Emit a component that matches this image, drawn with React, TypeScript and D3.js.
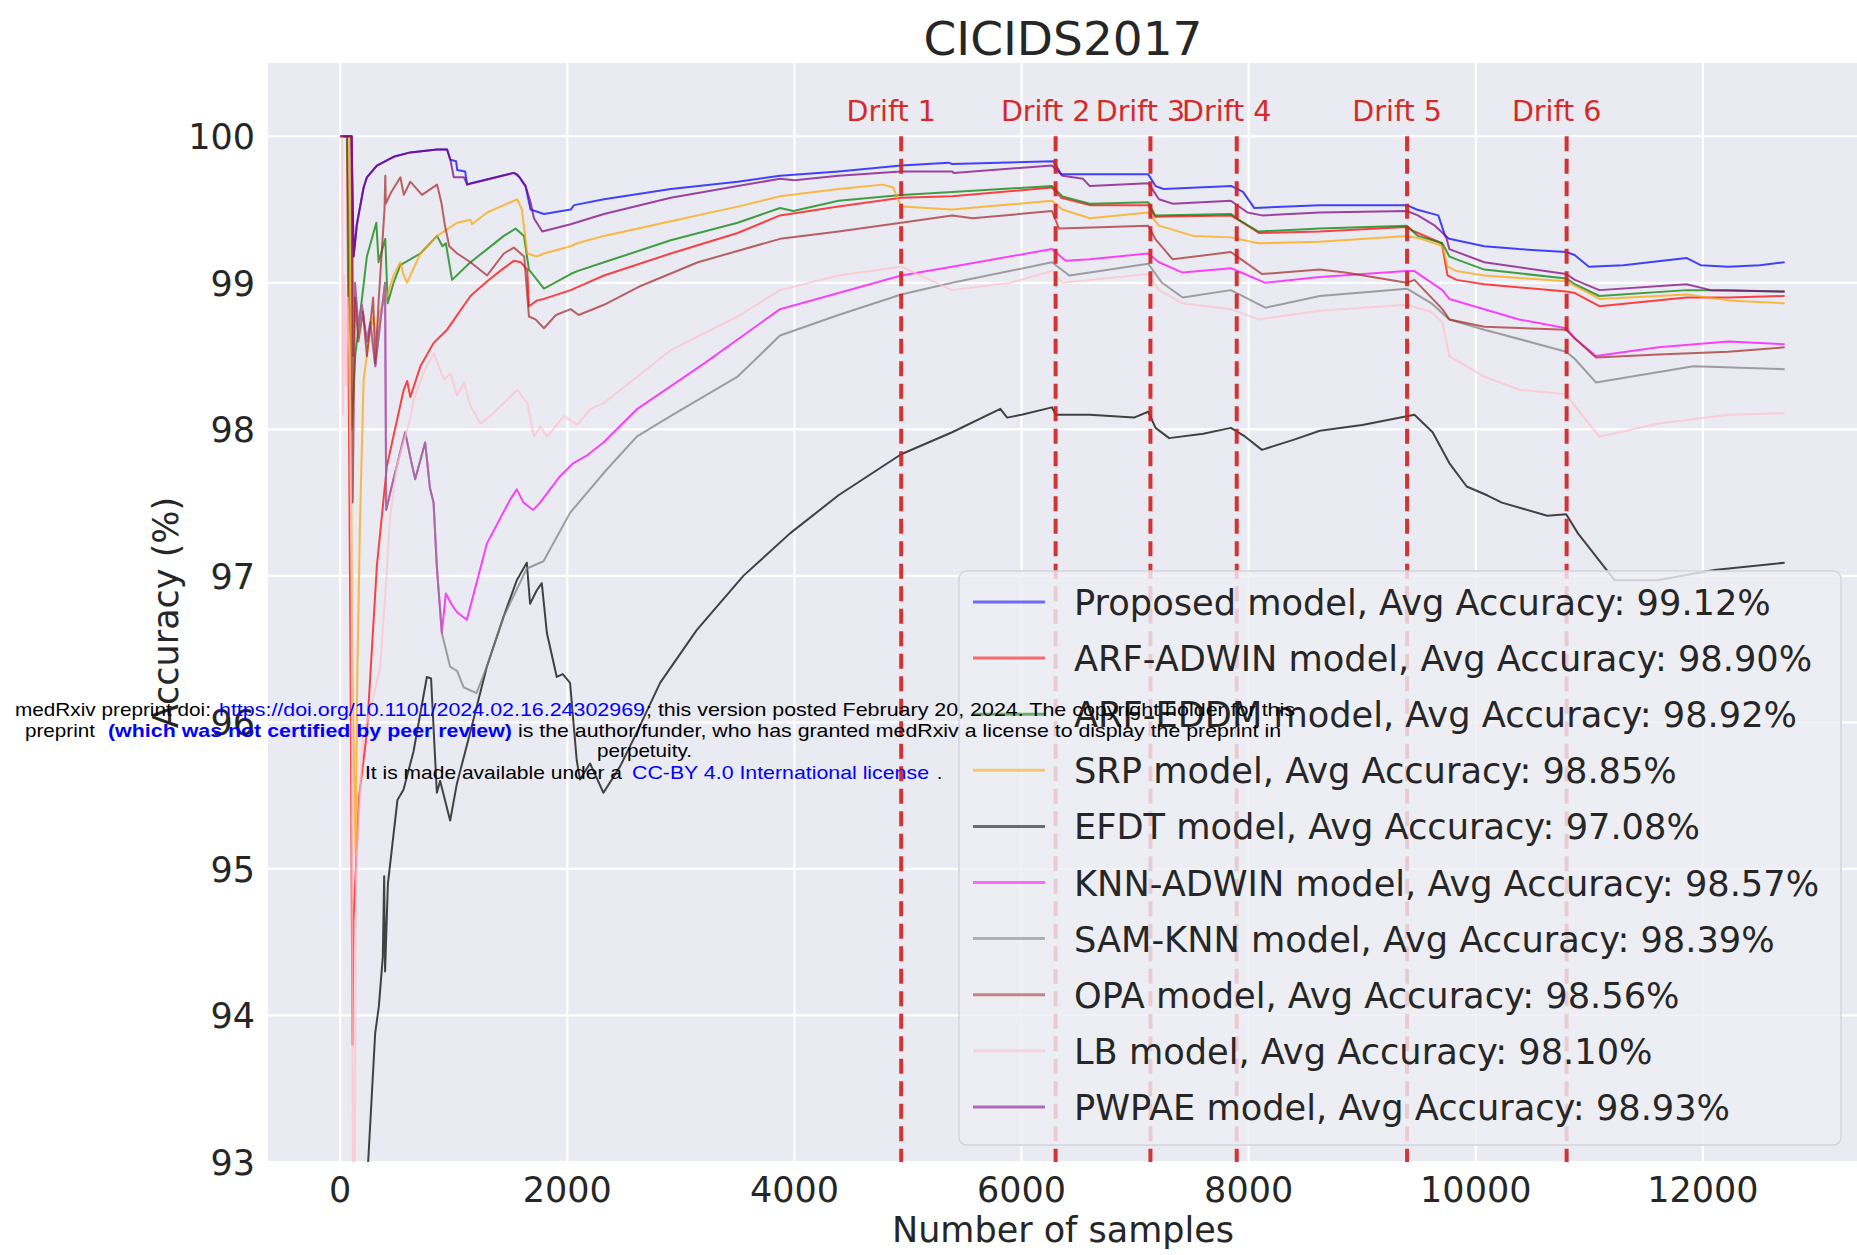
import React from "react";
import * as d3 from "d3";

const W = 1857;
const H = 1255;

const xTicks = [0, 2000, 4000, 6000, 8000, 10000, 12000];
const yTicks = [93, 94, 95, 96, 97, 98, 99, 100];
const driftX = [4940, 6300, 7135, 7895, 9395, 10800];
const driftLabels = ["Drift 1", "Drift 2", "Drift 3", "Drift 4", "Drift 5", "Drift 6"];

const modelNames = [
  "Proposed model",
  "ARF-ADWIN model",
  "ARF-EDDM model",
  "SRP model",
  "EFDT model",
  "KNN-ADWIN model",
  "SAM-KNN model",
  "OPA model",
  "LB model",
  "PWPAE model",
];
const avgAccuracy = [99.12, 98.9, 98.92, 98.85, 97.08, 98.57, 98.39, 98.56, 98.1, 98.93];
const lineColors = ["#0000ff", "#ff0000", "#008000", "#ffa500", "#000000", "#ff00ff", "#808080", "#a52a2a", "#ffc0cb", "#800080"];

type P = [number, number];

const proposed: P[] = [
  [0, 100], [100, 100], [118, 99.18], [147, 99.4], [206, 99.65], [235, 99.72], [323, 99.8], [470, 99.86], [617, 99.89],
  [853, 99.91], [941, 99.91], [970, 99.84], [1020, 99.83], [1030, 99.77], [1100, 99.76], [1118, 99.67], [1150, 99.68],
  [1529, 99.75], [1560, 99.74], [1632, 99.66], [1676, 99.5], [1794, 99.47], [2030, 99.5], [2059, 99.53], [2323, 99.57],
  [2911, 99.64], [3500, 99.69], [3873, 99.73], [4388, 99.76], [4940, 99.8], [5360, 99.82], [5389, 99.81], [6280, 99.83],
  [6350, 99.74], [6600, 99.74], [7116, 99.74], [7180, 99.66], [7250, 99.64], [7850, 99.66], [7950, 99.62], [8050, 99.51],
  [8626, 99.53], [9393, 99.53], [9480, 99.5], [9670, 99.46], [9730, 99.32], [9767, 99.3], [10075, 99.25], [10380, 99.23],
  [10796, 99.21], [10870, 99.19], [10996, 99.11], [11300, 99.12], [11856, 99.17], [11980, 99.12], [12224, 99.11],
  [12500, 99.12], [12720, 99.14],
];

const arfAdwin: P[] = [
  [0, 100], [60, 100], [90, 96.5], [108, 93.8], [117, 94.65], [167, 95.5], [235, 95.93], [323, 97.07], [411, 97.75],
  [559, 98.27], [590, 98.33], [617, 98.22], [706, 98.43], [823, 98.59], [941, 98.68], [1147, 98.91], [1294, 99.01],
  [1441, 99.1], [1529, 99.15], [1590, 99.14], [1647, 99.09], [1662, 98.84], [1735, 98.88], [1794, 98.89], [2029, 98.95],
  [2323, 99.05], [2911, 99.2], [3500, 99.34], [3873, 99.46], [4388, 99.52], [4940, 99.58], [5389, 99.59], [6268, 99.65],
  [6350, 99.58], [6600, 99.53], [7116, 99.53], [7177, 99.45], [7843, 99.46], [7970, 99.4], [8090, 99.34], [8626, 99.35],
  [9393, 99.38], [9460, 99.35], [9700, 99.27], [9752, 99.05], [9830, 99.02], [10075, 98.99], [10796, 98.94],
  [10873, 98.93], [11088, 98.84], [11856, 98.9], [12224, 98.9], [12720, 98.91],
];

const arfEddm: P[] = [
  [0, 100], [60, 100], [100, 98.0], [132, 98.5], [235, 99.18], [318, 99.41], [338, 99.14], [397, 99.3], [418, 98.86],
  [470, 99.0], [529, 99.12], [706, 99.2], [853, 99.32], [900, 99.25], [930, 99.27], [985, 99.02], [1147, 99.14],
  [1294, 99.23], [1441, 99.32], [1544, 99.37], [1618, 99.32], [1662, 99.09], [1794, 98.96], [2029, 99.06], [2088, 99.08],
  [2323, 99.14], [2911, 99.29], [3500, 99.41], [3873, 99.51], [3990, 99.49], [4388, 99.56], [4940, 99.6], [5389, 99.62],
  [6268, 99.66], [6360, 99.59], [6601, 99.54], [7116, 99.55], [7177, 99.46], [7843, 99.47], [7934, 99.42], [8086, 99.35],
  [8626, 99.37], [9393, 99.39], [9490, 99.32], [9706, 99.27], [9767, 99.18], [9830, 99.16], [10075, 99.09],
  [10796, 99.03], [10873, 98.99], [11088, 98.91], [11856, 98.95], [12224, 98.95], [12720, 98.94],
];

const srp: P[] = [
  [0, 100], [80, 100], [105, 96.5], [135, 95.1], [150, 96.3], [175, 97.4], [206, 98.34], [265, 98.68], [294, 98.77],
  [320, 98.6], [345, 98.8], [412, 98.91], [470, 99.05], [529, 99.14], [560, 99.05], [588, 99.0], [706, 99.2],
  [853, 99.32], [1030, 99.41], [1147, 99.43], [1160, 99.4], [1294, 99.48], [1441, 99.53], [1559, 99.57], [1600, 99.5],
  [1647, 99.2], [1735, 99.18], [1794, 99.2], [2029, 99.25], [2088, 99.27], [2323, 99.32], [2911, 99.42], [3500, 99.52],
  [3873, 99.59], [4388, 99.64], [4780, 99.67], [4870, 99.65], [4940, 99.52], [5389, 99.5], [5690, 99.52], [6268, 99.56],
  [6360, 99.5], [6601, 99.44], [7116, 99.48], [7210, 99.39], [7510, 99.32], [7843, 99.31], [8086, 99.27], [8626, 99.28],
  [9393, 99.32], [9520, 99.3], [9706, 99.25], [9752, 99.11], [9830, 99.08], [10075, 99.05], [10796, 99.01],
  [10996, 98.93], [11088, 98.89], [11856, 98.92], [12224, 98.88], [12720, 98.86],
];

const efdt: P[] = [
  [0, 86.0], [100, 88.5], [200, 91.6], [246, 93.0], [308, 93.88], [340, 94.06], [375, 94.4], [387, 94.95],
  [395, 94.3], [420, 94.9], [504, 95.47], [557, 95.54], [645, 95.8], [763, 96.31], [800, 96.3], [851, 95.52],
  [880, 95.6], [968, 95.33], [1027, 95.58], [1144, 95.93], [1291, 96.38], [1438, 96.72], [1555, 96.97], [1643, 97.09],
  [1672, 96.81], [1730, 96.9], [1775, 96.95], [1820, 96.61], [1907, 96.31], [1960, 96.33], [2024, 96.27], [2083, 95.74],
  [2112, 95.61], [2200, 95.72], [2318, 95.52], [2465, 95.7], [2611, 95.93], [2817, 96.27], [3139, 96.63], [3550, 97.0],
  [3961, 97.29], [4388, 97.55], [4940, 97.83], [5389, 97.98], [5813, 98.14], [5873, 98.08], [6000, 98.1],
  [6268, 98.15], [6300, 98.1], [6600, 98.1], [6990, 98.08], [7116, 98.12], [7180, 98.01], [7300, 97.94], [7600, 97.97],
  [7843, 98.01], [7970, 97.95], [8117, 97.86], [8400, 97.93], [8626, 97.99], [9000, 98.03], [9393, 98.09],
  [9460, 98.1], [9620, 97.98], [9767, 97.77], [9920, 97.61], [10100, 97.55], [10230, 97.5], [10630, 97.41],
  [10796, 97.42], [10900, 97.29], [11224, 96.97], [11600, 96.97], [12100, 97.04], [12720, 97.09],
];

const knnAdwin: P[] = [
  [0, 100], [100, 100], [115, 98.5], [130, 99.0], [160, 98.7], [190, 98.85], [235, 98.6], [265, 98.73], [309, 98.43],
  [353, 98.73], [395, 99.0], [405, 97.45], [450, 97.6], [572, 97.98], [620, 97.8], [660, 97.66], [748, 97.91],
  [790, 97.6], [822, 97.5], [851, 97.06], [895, 96.61], [930, 96.88], [985, 96.8], [1030, 96.75], [1115, 96.7],
  [1291, 97.22], [1496, 97.52], [1555, 97.59], [1614, 97.5], [1700, 97.45], [1760, 97.5], [1936, 97.68], [2054, 97.77],
  [2170, 97.82], [2318, 97.91], [2617, 98.14], [3206, 98.45], [3873, 98.82], [4388, 98.93], [4940, 99.05],
  [5389, 99.11], [6268, 99.23], [6389, 99.15], [6601, 99.16], [7116, 99.2], [7210, 99.14], [7419, 99.07],
  [7843, 99.1], [7934, 99.07], [8147, 99.0], [8626, 99.04], [9393, 99.08], [9460, 99.08], [9706, 98.95], [9767, 98.89],
  [10075, 98.82], [10382, 98.75], [10796, 98.69], [10873, 98.62], [11058, 98.5], [11610, 98.56], [12224, 98.6],
  [12720, 98.58],
];

const samKnn: P[] = [
  [0, 100], [100, 100], [115, 98.5], [130, 99.0], [160, 98.7], [190, 98.85], [235, 98.6], [265, 98.73], [309, 98.43],
  [353, 98.73], [395, 99.0], [405, 97.45], [450, 97.6], [572, 97.98], [620, 97.8], [660, 97.66], [748, 97.91],
  [790, 97.6], [822, 97.5], [851, 97.06], [895, 96.61], [968, 96.38], [1030, 96.35], [1086, 96.24], [1200, 96.2],
  [1291, 96.38], [1438, 96.72], [1643, 97.05], [1790, 97.1], [2024, 97.43], [2318, 97.7], [2611, 97.95], [2908, 98.09],
  [3500, 98.36], [3873, 98.64], [4388, 98.78], [4940, 98.92], [5389, 99.0], [6268, 99.14], [6420, 99.05],
  [6601, 99.07], [7116, 99.13], [7237, 99.0], [7419, 98.9], [7843, 98.95], [8147, 98.83], [8626, 98.91], [9393, 98.96],
  [9610, 98.86], [9767, 98.75], [10075, 98.68], [10796, 98.53], [10873, 98.48], [11058, 98.32], [11600, 98.39],
  [11917, 98.43], [12720, 98.41],
];

const opa: P[] = [
  [0, 100], [100, 100], [110, 97.5], [130, 98.9], [160, 98.6], [200, 98.8], [235, 98.5], [290, 98.9], [309, 98.45],
  [340, 98.9], [390, 99.5], [397, 99.73], [402, 99.54], [450, 99.62], [530, 99.72], [560, 99.6], [617, 99.69],
  [720, 99.6], [853, 99.67], [890, 99.55], [920, 99.4], [960, 99.25], [1030, 99.2], [1147, 99.14], [1294, 99.05],
  [1441, 99.2], [1529, 99.24], [1620, 99.18], [1662, 98.77], [1720, 98.75], [1794, 98.69], [1900, 98.78],
  [2029, 98.82], [2100, 98.78], [2323, 98.85], [2650, 98.98], [3150, 99.14], [3873, 99.3], [4388, 99.35],
  [4940, 99.41], [5389, 99.46], [5570, 99.44], [6268, 99.49], [6330, 99.37], [7116, 99.39], [7177, 99.3],
  [7330, 99.16], [7843, 99.21], [7934, 99.16], [8117, 99.06], [8626, 99.09], [8850, 99.07], [9393, 99.0],
  [9460, 99.02], [9706, 98.82], [9767, 98.75], [10075, 98.7], [10796, 98.68], [10873, 98.62], [11058, 98.49],
  [11610, 98.51], [12224, 98.53], [12720, 98.56],
];

const lb: P[] = [
  [0, 100], [15, 100], [25, 98.1], [35, 99.05], [50, 98.3], [65, 98.9], [80, 98.5], [100, 97.0], [112, 92.5],
  [125, 92.5], [140, 95.0], [200, 95.9], [300, 96.2], [352, 96.38], [396, 96.86], [440, 97.41], [499, 97.75],
  [616, 98.07], [647, 98.2], [735, 98.39], [823, 98.52], [870, 98.43], [912, 98.34], [970, 98.38], [1030, 98.23],
  [1090, 98.32], [1147, 98.16], [1235, 98.04], [1320, 98.09], [1441, 98.18], [1559, 98.27], [1647, 98.18],
  [1706, 97.95], [1760, 98.02], [1823, 97.95], [1970, 98.09], [2088, 98.03], [2206, 98.14], [2323, 98.18],
  [2617, 98.36], [2911, 98.54], [3500, 98.77], [3873, 98.95], [4388, 99.05], [4940, 99.11], [5389, 98.95],
  [5900, 99.0], [6268, 99.08], [6360, 99.0], [7116, 99.06], [7210, 98.95], [7419, 98.86], [7843, 98.82],
  [8086, 98.75], [8626, 98.81], [9393, 98.85], [9610, 98.8], [9706, 98.73], [9767, 98.5], [9920, 98.43],
  [10075, 98.36], [10382, 98.27], [10796, 98.24], [10873, 98.16], [11088, 97.95], [11610, 98.04], [12224, 98.1],
  [12720, 98.11],
];

const pwpae: P[] = [
  [0, 100], [100, 100], [118, 99.18], [147, 99.4], [206, 99.65], [235, 99.72], [323, 99.8], [470, 99.86], [617, 99.89],
  [853, 99.91], [941, 99.91], [970, 99.84], [1000, 99.72], [1090, 99.72], [1118, 99.67], [1529, 99.75], [1580, 99.72],
  [1632, 99.66], [1676, 99.55], [1706, 99.44], [1779, 99.35], [2029, 99.4], [2323, 99.47], [2911, 99.58],
  [3500, 99.66], [3873, 99.71], [4000, 99.7], [4388, 99.73], [4940, 99.76], [5389, 99.76], [5400, 99.75],
  [6268, 99.8], [6360, 99.73], [6540, 99.71], [6601, 99.66], [7116, 99.68], [7210, 99.57], [7330, 99.54],
  [7843, 99.56], [7990, 99.48], [8117, 99.46], [8626, 99.48], [9393, 99.49], [9490, 99.46], [9640, 99.39],
  [9737, 99.32], [9767, 99.23], [10075, 99.14], [10796, 99.06], [10873, 99.02], [11088, 98.95], [11856, 98.99],
  [12070, 98.95], [12720, 98.94],
];

const seriesData = [proposed, arfAdwin, arfEddm, srp, efdt, knnAdwin, samKnn, opa, lb, pwpae];

const wmBlack = "#000000";
const wmBlue = "#0000ff";

export default function App() {
  const x = d3.scaleLinear().domain([-636, 13366]).range([268, 1858]);
  const y = d3.scaleLinear().domain([93, 100.5]).range([1162, 63]);
  const line = d3
    .line<P>()
    .x((d) => x(d[0]))
    .y((d) => y(d[1]));

  const plotL = x(-636);
  const plotR = x(13366);
  const plotT = y(100.5);
  const plotB = y(93);
  const font = "DejaVu Sans, sans-serif";
  const textColor = "#262626";

  const legX = 959;
  const legY = 571;
  const legW = 882;
  const legH = 574;
  const rowBase0 = 615;
  const rowStep = 56.1;

  const wm = "Liberation Sans, Arial, sans-serif";
  const wmY = [716, 737, 757, 779];

  return (
    <svg
      width={W}
      height={H}
      style={{ position: "absolute", left: 0, top: 0, background: "#ffffff" }}
    >
      <defs>
        <clipPath id="plotClip">
          <rect x={plotL} y={plotT} width={plotR - plotL} height={plotB - plotT} />
        </clipPath>
      </defs>
      <rect x={0} y={0} width={W} height={H} fill="#ffffff" />
      <rect x={plotL} y={plotT} width={plotR - plotL} height={plotB - plotT} fill="#EAEAF2" />
      {xTicks.map((t) => (
        <line key={"gx" + t} x1={x(t)} x2={x(t)} y1={plotT} y2={plotB} stroke="#ffffff" strokeWidth={2.2} />
      ))}
      {yTicks.map((t) => (
        <line key={"gy" + t} x1={plotL} x2={plotR} y1={y(t)} y2={y(t)} stroke="#ffffff" strokeWidth={2.2} />
      ))}
      <g clipPath="url(#plotClip)">
        {seriesData.map((s, i) => (
          <path
            key={"s" + i}
            d={line(s) || ""}
            fill="none"
            stroke={lineColors[i]}
            strokeOpacity={0.72}
            strokeWidth={2}
            strokeLinejoin="round"
          />
        ))}
      </g>
      {driftX.map((d, i) => (
        <line
          key={"d" + i}
          x1={x(d)}
          x2={x(d)}
          y1={y(100)}
          y2={y(93)}
          stroke="#d21f1f"
          strokeOpacity={0.9}
          strokeWidth={4}
          strokeDasharray="15,7.5"
        />
      ))}
      {driftX.map((d, i) => (
        <text
          key={"dl" + i}
          x={x(d) - 10}
          y={121}
          textAnchor="middle"
          fontFamily={font}
          fontSize={28.5}
          fill="#d42a2a"
        >
          {driftLabels[i]}
        </text>
      ))}
      {xTicks.map((t) => (
        <text key={"xt" + t} x={x(t)} y={1202} textAnchor="middle" fontFamily={font} fontSize={35} fill={textColor}>
          {t}
        </text>
      ))}
      {yTicks.map((t) => (
        <text
          key={"yt" + t}
          x={255}
          y={y(t) + 13}
          textAnchor="end"
          fontFamily={font}
          fontSize={35}
          fill={textColor}
        >
          {t}
        </text>
      ))}
      <text x={(plotL + plotR) / 2} y={55} textAnchor="middle" fontFamily={font} fontSize={47} fill={textColor}>
        CICIDS2017
      </text>
      <text x={(plotL + plotR) / 2} y={1242} textAnchor="middle" fontFamily={font} fontSize={35} fill={textColor}>
        Number of samples
      </text>
      <text
        transform={`translate(178, ${(plotT + plotB) / 2}) rotate(-90)`}
        textAnchor="middle"
        fontFamily={font}
        fontSize={35}
        fill={textColor}
      >
        Accuracy (%)
      </text>
      <g>
        <rect
          x={legX}
          y={legY}
          width={legW}
          height={legH}
          rx={8}
          fill="#EEEEF4"
          fillOpacity={0.82}
          stroke="#d4d4dc"
          strokeWidth={1.5}
        />
        {modelNames.map((n, i) => (
          <g key={"lg" + i}>
            <line
              x1={973}
              x2={1045}
              y1={rowBase0 + i * rowStep - 13}
              y2={rowBase0 + i * rowStep - 13}
              stroke={lineColors[i]}
              strokeOpacity={0.55}
              strokeWidth={3}
            />
            <text x={1074} y={rowBase0 + i * rowStep} fontFamily={font} fontSize={35.2} fill={textColor}>
              {`${n}, Avg Accuracy: ${avgAccuracy[i].toFixed(2)}%`}
            </text>
          </g>
        ))}
      </g>
      <g fontFamily={wm} fontSize={19}>
        <text x={15} y={wmY[0]} textLength={196} lengthAdjust="spacingAndGlyphs" fill={wmBlack}>
          medRxiv preprint doi:
        </text>
        <text x={219} y={wmY[0]} textLength={426} lengthAdjust="spacingAndGlyphs" fill={wmBlue}>
          https://doi.org/10.1101/2024.02.16.24302969
        </text>
        <text x={646} y={wmY[0]} textLength={649} lengthAdjust="spacingAndGlyphs" fill={wmBlack}>
          ; this version posted February 20, 2024. The copyright holder for this
        </text>
        <text x={25} y={wmY[1]} textLength={70} lengthAdjust="spacingAndGlyphs" fill={wmBlack}>
          preprint
        </text>
        <text x={108} y={wmY[1]} textLength={404} lengthAdjust="spacingAndGlyphs" fill={wmBlue} fontWeight="bold">
          (which was not certified by peer review)
        </text>
        <text x={518} y={wmY[1]} textLength={763} lengthAdjust="spacingAndGlyphs" fill={wmBlack}>
          is the author/funder, who has granted medRxiv a license to display the preprint in
        </text>
        <text x={597} y={wmY[2]} textLength={95} lengthAdjust="spacingAndGlyphs" fill={wmBlack}>
          perpetuity.
        </text>
        <text x={365} y={wmY[3]} textLength={257} lengthAdjust="spacingAndGlyphs" fill={wmBlack}>
          It is made available under a
        </text>
        <text x={632} y={wmY[3]} textLength={297} lengthAdjust="spacingAndGlyphs" fill={wmBlue}>
          CC-BY 4.0 International license
        </text>
        <text x={937} y={wmY[3]} fill={wmBlack}>
          .
        </text>
      </g>
    </svg>
  );
}
